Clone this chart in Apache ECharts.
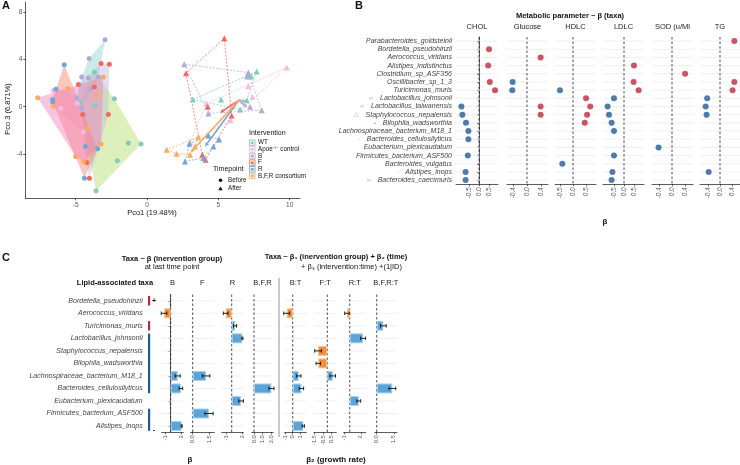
<!DOCTYPE html>
<html lang="en">
<head>
<meta charset="UTF-8">
<title>Intervention, metabolic parameters and taxa</title>
<script src="https://cdn.jsdelivr.net/npm/echarts@6/dist/echarts.min.js"></script>
<style>html,body{margin:0;padding:0;background:#fff;}</style>
</head>
<body>
<div id="main" style="width:740px;height:465px"></div>
<script>
// ---------- panel A : PCoA (Pco1, Pco3) ----------
var groupNames = ['WT', 'Apoe control', 'B', 'F', 'R', 'B,F,R consortium'];
var beforeWT = [[-3.69,2.96],[-4.74,0.39],[-3.64,0.11],[-2.29,0.68],[-1.31,-3.08],[-0.42,-3.16],[-2.08,-4.59],[-3.57,-7.13]];
var beforeApoe = [[-6.57,1.39],[-6.05,-0.15],[-6.6,0.0],[-4.46,-2.14],[-4.9,0.3],[-5.6,1.5]];
var beforeB = [[-2.94,5.69],[-4.06,4.10],[-4.58,2.53],[-4.11,2.45],[-3.41,2.53],[-3.95,1.48],[-4.93,0.77],[-4.58,-0.15]];
var beforeF = [[-3.22,3.67],[-2.64,3.6],[-4.81,1.9],[-3.69,1.68],[-4.51,-0.66],[-2.71,-0.66],[-4.23,-4.73],[-4.04,-6.07]];
var beforeR = [[-5.8,3.56],[-6.38,1.48],[-6.61,0.62],[-6.61,0.4],[-4.32,-3.37],[-3.46,-3.56],[-4.39,-6.07]];
var beforeBFR = [[-7.66,0.77],[-5.56,1.56],[-3.06,2.53],[-3.53,0.97],[-6.56,0.05],[-4.16,-1.8],[-3.22,-3.16],[-5.0,-4.22],[-4.44,-4.65]];
var afterWT = [[7.69,2.99],[7.15,2.56],[3.2,0.62],[5.19,0.62],[6.52,-0.23],[6.99,0.56],[7.3,2.6]];
var afterApoe = [[9.79,3.33],[7.1,1.76],[7.38,0.85],[4.18,0.28],[5.86,-1.15],[3.01,-2.99]];
var afterB = [[2.61,3.62],[7.1,2.9],[8.04,-0.29],[7.22,0.0],[4.3,-0.57],[7.0,2.6]];
var afterF = [[5.42,5.81],[2.73,2.85],[4.25,0.0],[5.93,-0.74],[3.88,-4.08],[4.1,-4.5]];
var afterR = [[4.3,-2.45],[5.05,-2.79],[4.65,-3.37],[2.97,-3.14],[2.66,-4.65],[3.95,-4.36]];
var afterBFR = [[1.38,-3.65],[3.6,-2.56],[2.08,-3.99],[3.01,-4.08],[3.36,-3.37]];
var arrowStart = [6.45, 0.56];
var arrowEnds = [[6.95,0.45],[6.75,0.2],[7.03,-0.09],[5.12,-0.51],[4.06,-3.37],[3.06,-3.88]];
var ticksPco1 = [-5, 0, 5, 10];
var ticksPco3 = [-4, 0, 4, 8];

// ---------- panel B : metabolic parameter ~ beta(taxa) ----------
var taxaB = ['Parabacteroides_goldsteinii','Bordetella_pseudohinzii','Aerococcus_viridans','Alistipes_indistinctus',
  'Clostridium_sp_ASF356','Oscillibacter_sp_1_3','Turicimonas_muris','Lactobacillus_johnsonii','Lactobacillus_taiwanensis',
  'Staphylococcus_nepalensis','Bilophila_wadsworthia','Lachnospiraceae_bacterium_M18_1','Bacteroides_cellulosilyticus',
  'Eubacterium_plexicaudatum','Firmicutes_bacterium_ASF500','Bacteroides_vulgatus','Alistipes_inops','Bacteroides_caecimuris'];
var marksB = ['','','','','','','','∞','∞','△','•','','◦','','','','◦','∞'];
var paramsB = ['CHOL', 'Glucose', 'HDLC', 'LDLC', 'SOD (u/Ml', 'TG'];
var cholB    = [null,0.5,null,0.46,null,0.54,0.8,null,-0.88,-0.83,-0.65,-0.53,-0.53,null,-0.56,null,-0.67,-0.67];
var glucoseB = [null,null,0.39,null,null,-0.41,-0.42,null,0.39,0.39,null,null,null,null,null,null,null,null];
var hdlcB    = [null,null,null,null,null,null,-0.5,0.5,0.66,0.54,0.45,null,null,null,null,-0.41,null,null];
var ldlcB    = [null,null,null,0.5,null,0.48,0.73,-0.5,-0.82,-0.75,-0.62,-0.5,null,null,-0.5,null,-0.58,-0.62];
var sodB     = [null,null,null,null,0.4,null,null,null,null,null,null,null,null,-0.41,null,null,null,null];
var tgB      = [0.48,null,null,null,null,0.48,0.42,-0.43,-0.48,-0.45,null,null,null,null,null,null,-0.38,null];
var ticksB = [[-0.5,0,0.5],[-0.4,0,0.4],[-0.5,0,0.5],[-0.5,0,0.5],[-0.4,0,0.4],[-0.4,0,0.4]];

// ---------- panel C : taxa ~ beta(intervention) ----------
var taxaC = ['Bordetella_pseudohinzii','Aerococcus_viridans','Turicimonas_muris','Lactobacillus_johnsonii',
  'Staphylococcus_nepalensis','Bilophila_wadsworthia','Lachnospiraceae_bacterium_M18_1','Bacteroides_cellulosilyticus',
  'Eubacterium_plexicaudatum','Firmicutes_bacterium_ASF500','Alistipes_inops'];
var lipidC = ['pos','','pos','neg','neg','neg','neg','neg','','neg','neg'];
var signC = ['+','','','','','','','','','','-'];
var facetsC = ['B','F','R','B,F,R','B:T','F:T','R:T','B,F,R:T'];
var cB      = [null,-1.3,null,null,null,null,1.37,2.0,null,null,2.15];
var cBerr   = [null,0.55,null,null,null,null,0.5,0.35,null,null,0.1];
var cF      = [null,null,null,null,null,null,1.23,null,null,1.5,null];
var cFerr   = [null,null,null,null,null,null,0.35,null,null,0.38,null];
var cR      = [null,-1.15,0.64,2.05,null,null,null,null,1.8,null,null];
var cRerr   = [null,0.45,0.3,0.12,null,null,null,null,0.45,null,null];
var cBFR    = [null,null,null,null,null,null,null,2.05,null,null,null];
var cBFRerr = [null,null,null,null,null,null,null,0.3,null,null,null];
var cBT     = [null,-0.8,null,null,null,null,0.8,1.15,null,null,1.41];
var cBTerr  = [null,0.4,null,null,null,null,0.3,0.3,null,null,0.15];
var cFT     = [null,null,null,null,-1.1,-1.07,0.65,null,null,null,null];
var cFTerr  = [null,null,null,null,0.4,0.26,0.33,null,null,null,null];
var cRT     = [null,-0.5,null,2.42,null,null,null,null,1.64,null,null];
var cRTerr  = [null,0.42,null,0.45,null,null,null,null,0.35,null,null];
var cBFRT   = [null,null,0.58,null,null,null,null,1.37,null,null,null];
var cBFRTerr= [null,null,0.25,null,null,null,null,0.3,null,null,null];
var ticksC = [[-1,0,1,2],[0,0.5,1,1.5],[-1,0,1,2],[0,0.5,1,1.5,2],[-1,0,1],[-1.5,-1,-0.5,0,0.5],[-1,0,1,2],[0,0.5,1,1.5]];

// ---------- styling / layout ----------
var FONT = '"Liberation Sans", Arial, sans-serif';
var AXIS = '#333';
var GRIDLINE = '#ebebeb';
var pointColors = ['#7fcdbb','#f7b9dc','#b4a8d8','#f4675f','#6fa7d7','#fbab5a'];
var hullColors  = ['#b3de69','#fccde5','#8dd3c7','#bebada','#fb8072','#ef7fbb'];
var RED_B = '#bd2a3e', BLUE_B = '#1f5c99';
var ORANGE_C = '#f28f38', BLUE_C = '#5aa4d8';
// [left, width, min, max]
var layoutB = [[456,42,-1.15,0.95],[507,41,-0.57,0.6],[555,41,-0.69,0.88],[603,41,-1.05,1.0],[652,41,-0.61,0.64],[700,40,-0.67,0.67]];
var layoutC = [[161.7,21.6,-1.76,2.47],[190.5,23.8,-0.2,1.99],[221.7,21.6,-1.92,2.23],[251.7,21.6,-0.27,2.27],
  [284.7,21.6,-1.07,1.81],[314,22.3,-1.58,1.07],[343.7,22,-1.1,2.9],[374.7,22.3,-0.18,1.78]];

var chart = echarts.init(document.getElementById('main'));
var grids = [], xAxes = [], yAxes = [], series = [], graphics = [];

function addGrid(left, top, width, height) {
  grids.push({left: left, top: top, width: width, height: height, outerBoundsMode: 'none'});
  return grids.length - 1;
}

function fmt1(v) { return v.toFixed(1); }

function convexHull(pts) {
  var p = pts.slice().sort(function (a, b) { return a[0] - b[0] || a[1] - b[1]; });
  function cross(o, a, b) { return (a[0]-o[0])*(b[1]-o[1]) - (a[1]-o[1])*(b[0]-o[0]); }
  var lower = [], upper = [];
  p.forEach(function (q) {
    while (lower.length >= 2 && cross(lower[lower.length-2], lower[lower.length-1], q) <= 0) lower.pop();
    lower.push(q);
  });
  for (var i = p.length - 1; i >= 0; i--) {
    while (upper.length >= 2 && cross(upper[upper.length-2], upper[upper.length-1], p[i]) <= 0) upper.pop();
    upper.push(p[i]);
  }
  upper.pop(); lower.pop();
  return lower.concat(upper);
}

// ---------- panel A ----------
var gA = addGrid(25.3, 2, 274.7, 196.3);
xAxes.push({gridIndex: gA, type: 'value', min: -8.53, max: 10.72,
  axisLine: {show: true, onZero: false, lineStyle: {color: AXIS, width: 0.8}},
  axisTick: {show: true, customValues: ticksPco1, length: 2, lineStyle: {color: AXIS, width: 0.8}},
  axisLabel: {customValues: ticksPco1, fontSize: 6.5, color: '#555', margin: 3, fontFamily: FONT, hideOverlap: false},
  splitLine: {show: false}});
yAxes.push({gridIndex: gA, type: 'value', min: -7.78, max: 8.9,
  axisLine: {show: true, onZero: false, lineStyle: {color: AXIS, width: 0.8}},
  axisTick: {show: true, customValues: ticksPco3, length: 2, lineStyle: {color: AXIS, width: 0.8}},
  axisLabel: {customValues: ticksPco3, fontSize: 6.5, color: '#555', margin: 3, fontFamily: FONT, hideOverlap: false},
  splitLine: {show: false}});

var beforeSets = [beforeWT, beforeApoe, beforeB, beforeF, beforeR, beforeBFR];
var afterSets = [afterWT, afterApoe, afterB, afterF, afterR, afterBFR];

function hullSeries(pts, gi, dashed) {
  var hull = convexHull(pts);
  return {
    type: 'custom', xAxisIndex: gA, yAxisIndex: gA, silent: true, z: dashed ? 2 : 1,
    data: [[hull[0][0], hull[0][1]]],
    renderItem: function (params, api) {
      var pts2 = hull.map(function (h) { return api.coord(h); });
      if (dashed) {
        return {type: 'polygon', shape: {points: pts2},
          style: {fill: 'none', stroke: pointColors[gi], lineWidth: 0.9, lineDash: [2, 1.5], opacity: 0.85}};
      }
      return {type: 'polygon', shape: {points: pts2},
        style: {fill: hullColors[gi], opacity: 0.45, stroke: 'none'}};
    }
  };
}

groupNames.forEach(function (name, gi) {
  series.push(hullSeries(beforeSets[gi], gi, false));
  series.push(hullSeries(afterSets[gi], gi, true));
});

series.push({
  type: 'custom', xAxisIndex: gA, yAxisIndex: gA, silent: true, z: 3,
  data: arrowEnds.map(function (e, i) { return [e[0], e[1], i]; }),
  renderItem: function (params, api) {
    var s = api.coord(arrowStart), e = api.coord([api.value(0), api.value(1)]);
    var c = pointColors[api.value(2)];
    var ang = Math.atan2(e[1] - s[1], e[0] - s[0]), L = 4, W = 2;
    var bx = e[0] - L * Math.cos(ang), by = e[1] - L * Math.sin(ang);
    var px = -Math.sin(ang) * W, py = Math.cos(ang) * W;
    return {type: 'group', children: [
      {type: 'line', shape: {x1: s[0], y1: s[1], x2: bx, y2: by}, style: {stroke: c, lineWidth: 1.6}},
      {type: 'polygon', shape: {points: [[e[0], e[1]], [bx + px, by + py], [bx - px, by - py]]}, style: {fill: c}}
    ]};
  }
});

groupNames.forEach(function (name, gi) {
  series.push({type: 'scatter', name: name, xAxisIndex: gA, yAxisIndex: gA, z: 4, silent: true,
    symbol: 'circle', symbolSize: 5, itemStyle: {color: pointColors[gi], opacity: 1}, data: beforeSets[gi]});
  series.push({type: 'scatter', name: name, xAxisIndex: gA, yAxisIndex: gA, z: 4, silent: true,
    symbol: 'triangle', symbolSize: 6, itemStyle: {color: pointColors[gi], opacity: 1}, data: afterSets[gi]});
});

// ---------- shared helpers for faceted panels ----------
function frameSeries(gi, n) {
  return {
    type: 'custom', xAxisIndex: gi, yAxisIndex: gi, silent: true, z: 1, data: [[0, 0]],
    renderItem: function (params, api) {
      var cs = params.coordSys, kids = [];
      for (var i = 0; i < n; i++) {
        var y = api.coord([0, i])[1];
        kids.push({type: 'line', shape: {x1: cs.x, y1: y, x2: cs.x + cs.width, y2: y},
          style: {stroke: GRIDLINE, lineWidth: 0.8}});
      }
      var x0 = api.coord([0, 0])[0];
      kids.push({type: 'line', shape: {x1: x0, y1: cs.y, x2: x0, y2: cs.y + cs.height},
        style: {stroke: '#222', lineWidth: 0.8, lineDash: [2.5, 2]}});
      return {type: 'group', children: kids};
    }
  };
}

function valueAxis(gi, lay, ticks, formatter, fs) {
  return {gridIndex: gi, type: 'value', min: lay[2], max: lay[3],
    axisLine: {show: true, onZero: false, lineStyle: {color: AXIS, width: 0.8}},
    axisTick: {show: true, customValues: ticks, length: 2, lineStyle: {color: AXIS, width: 0.8}},
    axisLabel: {customValues: ticks, rotate: 90, fontSize: fs, color: '#555', margin: 3, fontFamily: FONT,
      formatter: formatter, hideOverlap: false, showMinLabel: true, showMaxLabel: true},
    splitLine: {show: false}};
}

// ---------- panel B ----------
var valsB = [cholB, glucoseB, hdlcB, ldlcB, sodB, tgB];
var topB = 37, heightB = 147.2;
paramsB.forEach(function (p, k) {
  var lay = layoutB[k];
  var gi = addGrid(lay[0], topB, lay[1], heightB);
  xAxes.push(valueAxis(gi, lay, ticksB[k], fmt1, 6.3));
  yAxes.push({gridIndex: gi, type: 'category', data: taxaB, inverse: true,
    axisLine: {show: k === 0, lineStyle: {color: AXIS, width: 0.8}},
    axisTick: {show: k === 0, length: 2, alignWithLabel: true, lineStyle: {color: AXIS, width: 0.8}},
    axisLabel: {show: k === 0, margin: 4, interval: 0, hideOverlap: false,
      formatter: function (v, idx) {
        return (marksB[idx] ? '{m|' + marksB[idx] + '}  ' : '') + '{t|' + v + '}';
      },
      rich: {t: {fontStyle: 'italic', fontSize: 7, color: '#444', fontFamily: FONT},
             m: {fontSize: 6, color: '#aaa', fontFamily: FONT}}},
    splitLine: {show: false}});
  series.push(frameSeries(gi, taxaB.length));
  var d = [];
  valsB[k].forEach(function (v, i) {
    if (v != null) d.push({value: [v, i], itemStyle: {color: v < 0 ? BLUE_B : RED_B}});
  });
  series.push({type: 'scatter', xAxisIndex: gi, yAxisIndex: gi, z: 3, silent: true,
    symbolSize: 6, data: d});
  graphics.push({type: 'text', x: lay[0] + lay[1] / 2, y: 26.7, silent: true,
    style: {text: p, fill: '#222', font: '7.5px ' + FONT, textAlign: 'center', textVerticalAlign: 'middle'}});
});

// ---------- panel C ----------
var valsC = [cB, cF, cR, cBFR, cBT, cFT, cRT, cBFRT];
var errsC = [cBerr, cFerr, cRerr, cBFRerr, cBTerr, cFTerr, cRTerr, cBFRTerr];
var topC = 294.5, heightC = 137.8;

function errSeries(gi, vals, errs) {
  var d = [];
  vals.forEach(function (v, i) { if (v != null) d.push([v, i, errs[i]]); });
  return {type: 'custom', xAxisIndex: gi, yAxisIndex: gi, z: 3, silent: true, data: d, encode: {x: 0, y: 1},
    renderItem: function (params, api) {
      var v = api.value(0), i = api.value(1), e = api.value(2);
      var p1 = api.coord([v - e, i]), p2 = api.coord([v + e, i]), h = 1.8;
      var st = {stroke: '#111', lineWidth: 0.9};
      return {type: 'group', children: [
        {type: 'line', shape: {x1: p1[0], y1: p1[1], x2: p2[0], y2: p2[1]}, style: st},
        {type: 'line', shape: {x1: p1[0], y1: p1[1] - h, x2: p1[0], y2: p1[1] + h}, style: st},
        {type: 'line', shape: {x1: p2[0], y1: p2[1] - h, x2: p2[0], y2: p2[1] + h}, style: st}
      ]};
    }};
}

facetsC.forEach(function (f, k) {
  var lay = layoutC[k];
  var gi = addGrid(lay[0], topC, lay[1], heightC);
  var dec = ticksC[k].some(function (t) { return t % 1 !== 0; });
  xAxes.push(valueAxis(gi, lay, ticksC[k], function (v) { return dec ? v.toFixed(1) : String(v); }, 5.8));
  yAxes.push({gridIndex: gi, type: 'category', data: taxaC, inverse: true,
    axisLine: {show: k === 0, lineStyle: {color: AXIS, width: 0.8}},
    axisTick: {show: k === 0, length: 2, alignWithLabel: true, lineStyle: {color: AXIS, width: 0.8}},
    axisLabel: {show: k === 0, margin: 19, interval: 0, hideOverlap: false, fontStyle: 'italic', fontSize: 7, color: '#444', fontFamily: FONT},
    splitLine: {show: false}});
  series.push(frameSeries(gi, taxaC.length));
  series.push({type: 'bar', xAxisIndex: gi, yAxisIndex: gi, z: 2, silent: true, barWidth: 10,
    data: valsC[k].map(function (v) {
      if (v == null) return '-';
      return {value: v, itemStyle: {color: v < 0 ? ORANGE_C : BLUE_C,
        borderColor: v < 0 ? '#fbc796' : '#a9d2ef', borderWidth: 1}};
    })});
  series.push(errSeries(gi, valsC[k], errsC[k]));
  graphics.push({type: 'text', x: lay[0] + lay[1] / 2, y: 283, silent: true,
    style: {text: f, fill: '#222', font: '7.5px ' + FONT, textAlign: 'center', textVerticalAlign: 'middle'}});
});

// lipid association strip
var gL = addGrid(148, topC, 10, heightC);
xAxes.push({gridIndex: gL, type: 'value', min: 0, max: 1, show: false});
yAxes.push({gridIndex: gL, type: 'category', data: taxaC, inverse: true, show: false});
series.push({type: 'custom', xAxisIndex: gL, yAxisIndex: gL, silent: true, z: 3, data: [[0, 0]],
  renderItem: function (params, api) {
    var cs = params.coordSys, band = api.size([0, 1])[1], kids = [];
    var i = 0;
    while (i < lipidC.length) {
      if (!lipidC[i]) { i++; continue; }
      var j = i;
      while (j + 1 < lipidC.length && lipidC[j + 1] === lipidC[i]) j++;
      var y1 = api.coord([0, i])[1] - band / 2 + 1.5, y2 = api.coord([0, j])[1] + band / 2 - 1.5;
      kids.push({type: 'rect', shape: {x: cs.x, y: y1, width: 2.2, height: y2 - y1},
        style: {fill: lipidC[i] === 'pos' ? RED_B : BLUE_B}});
      i = j + 1;
    }
    signC.forEach(function (s, k) {
      if (!s) return;
      var y = api.coord([0, k])[1] + (s === '-' ? 4 : 0);
      kids.push({type: 'text', style: {text: s, x: cs.x + 6, y: y, fill: '#222', font: 'bold 7px ' + FONT,
        textAlign: 'center', textVerticalAlign: 'middle'}});
    });
    return {type: 'group', children: kids};
  }});

// ---------- text / legends ----------
function txt(t, x, y, opt) {
  opt = opt || {};
  return {type: 'text', x: x, y: y, rotation: opt.rot || 0, silent: true,
    style: {text: t, fill: opt.color || '#111', font: (opt.weight || 'normal') + ' ' + (opt.size || 8) + 'px ' + FONT,
      textAlign: opt.align || 'center', textVerticalAlign: 'middle', rich: opt.rich}};
}

graphics.push(txt('A', 2, 6, {weight: 'bold', size: 11, align: 'left'}));
graphics.push(txt('B', 355, 6, {weight: 'bold', size: 11, align: 'left'}));
graphics.push(txt('C', 2, 258, {weight: 'bold', size: 11, align: 'left'}));
graphics.push(txt('Pco1 (19.48%)', 152, 213, {size: 7.5}));
graphics.push(txt('Pco 3 (6.871%)', 8, 109, {size: 7.5, rot: Math.PI / 2}));

// intervention legend
graphics.push(txt('Intervention', 249, 133, {size: 7, align: 'left'}));
var legLabels = ['WT', 'Apoe{s|−/−} control', 'B', 'F', 'R', 'B,F,R consortium'];
legLabels.forEach(function (l, i) {
  var y = 142.7 + i * 6.65;
  graphics.push({type: 'rect', silent: true, shape: {x: 249.5, y: y - 2.8, width: 5.6, height: 5.6},
    style: {fill: '#f4f4f4', stroke: pointColors[i], lineWidth: 0.8}});
  graphics.push({type: 'circle', silent: true, shape: {cx: 252.3, cy: y, r: 1.5}, style: {fill: pointColors[i]}});
  graphics.push(txt(l, 258, y, {size: 6.3, align: 'left', rich: {s: {fontSize: 4, verticalAlign: 'top', fontFamily: FONT}}}));
});
// timepoint legend
graphics.push(txt('Timepoint', 213, 169.5, {size: 7, align: 'left'}));
graphics.push({type: 'circle', silent: true, shape: {cx: 220.5, cy: 180.3, r: 1.8}, style: {fill: '#111'}});
graphics.push({type: 'polygon', silent: true, shape: {points: [[220.5, 186.4], [218.3, 190.2], [222.7, 190.2]]}, style: {fill: '#111'}});
graphics.push(txt('Before', 228, 180.3, {size: 6.3, align: 'left'}));
graphics.push(txt('After', 228, 188.6, {size: 6.3, align: 'left'}));

// panel B titles
graphics.push(txt('Metabolic parameter ~ β (taxa)', 570, 15.5, {weight: 'bold', size: 7.5}));
graphics.push(txt('β', 605, 221.5, {weight: 'bold', size: 8}));

// panel C titles
graphics.push(txt('Taxa ~ β (inervention group)', 172, 258.7, {weight: 'bold', size: 7.5}));
graphics.push(txt('at last time point', 172, 266.8, {size: 7.5}));
graphics.push(txt('Taxa ~ β₁ (inervention group) + β₂ (time)', 336, 257.3, {weight: 'bold', size: 7.5}));
graphics.push(txt('+ β₃ (intervention:time) +(1|ID)', 402, 266.8, {size: 7.5, align: 'right'}));
graphics.push(txt('Lipid-associated taxa', 115, 283, {weight: 'bold', size: 7.5}));
graphics.push(txt('β', 190, 460, {weight: 'bold', size: 8}));
graphics.push(txt('β₂ (growth rate)', 336, 460, {weight: 'bold', size: 8}));
graphics.push({type: 'line', silent: true, shape: {x1: 279, y1: 278, x2: 279, y2: 437},
  style: {stroke: '#777', lineWidth: 0.8}});

chart.setOption({
  animation: false,
  backgroundColor: '#fff',
  textStyle: {fontFamily: FONT},
  grid: grids,
  xAxis: xAxes,
  yAxis: yAxes,
  series: series,
  graphic: {elements: graphics}
});
</script>
</body>
</html>
